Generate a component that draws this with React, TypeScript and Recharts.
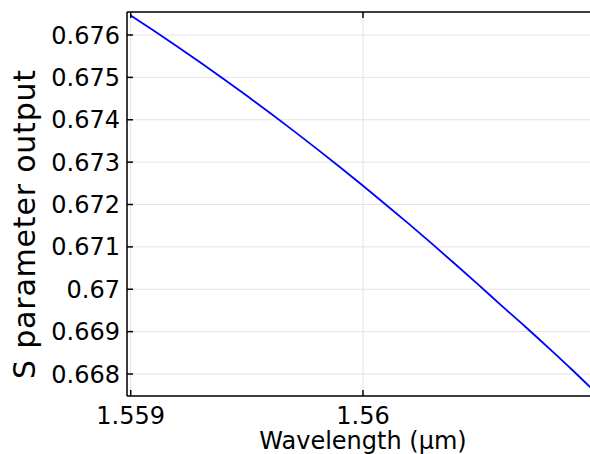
import { LineChart, Line, XAxis, YAxis, CartesianGrid } from 'recharts';

// wavelength in µm, sampled every 0.1 nm
const wavelengths = [
  1.559, 1.5591, 1.5592, 1.5593, 1.5594, 1.5595, 1.5596, 1.5597, 1.5598, 1.5599,
  1.56, 1.5601, 1.5602, 1.5603, 1.5604, 1.5605, 1.5606, 1.5607, 1.5608, 1.5609, 1.561,
];
const sParam = [
  0.67646, 0.6761, 0.67573, 0.675351, 0.674963, 0.674565, 0.674159, 0.673744, 0.673319, 0.672885,
  0.672443, 0.67199, 0.67153, 0.671058, 0.670579, 0.670093, 0.669595, 0.66911, 0.66861, 0.6681, 0.66757,
];
const xTicks = [1.559, 1.56];
const yTicks = [0.668, 0.669, 0.67, 0.671, 0.672, 0.673, 0.674, 0.675, 0.676];

const xDomain = [1.558984, 1.561016];
const yDomain = [0.667481, 0.676543];

const chartData = wavelengths.map((w, i) => ({ w, s: sParam[i] }));

const font = '"DejaVu Sans", Verdana, sans-serif';
const fmt = (v: number) => String(Number(v.toFixed(4)));

export default function App() {
  return (
    <div
      style={{
        position: 'absolute',
        left: 0,
        top: 0,
        width: 590,
        height: 454,
        overflow: 'hidden',
        background: '#fff',
        fontFamily: font,
      }}
    >
      <LineChart width={599} height={454} data={chartData} margin={{ top: 0, right: 0, left: 0, bottom: 0 }}>
        <CartesianGrid stroke="#e3e3e3" strokeWidth={1} xAxisId="bottom" yAxisId="left" />
        <XAxis
          xAxisId="bottom"
          dataKey="w"
          type="number"
          domain={xDomain}
          ticks={xTicks}
          allowDataOverflow
          height={58}
          tickFormatter={fmt}
          tickSize={-6}
          tickMargin={17}
          axisLine={{ stroke: '#000', strokeWidth: 1.5 }}
          tickLine={{ stroke: '#000', strokeWidth: 1.5 }}
          tick={{ fill: '#000', fontSize: 24, fontFamily: font }}
          label={{
            value: 'Wavelength (µm)',
            position: 'insideBottom',
            offset: 5,
            fill: '#000',
            fontSize: 24,
            fontFamily: font,
          }}
        />
        <XAxis
          xAxisId="top"
          orientation="top"
          dataKey="w"
          type="number"
          domain={xDomain}
          ticks={xTicks}
          allowDataOverflow
          height={12}
          tickFormatter={() => ''}
          tickSize={-6}
          axisLine={{ stroke: '#000', strokeWidth: 1.5 }}
          tickLine={{ stroke: '#000', strokeWidth: 1.5 }}
        />
        <YAxis
          yAxisId="left"
          type="number"
          domain={yDomain}
          ticks={yTicks}
          allowDataOverflow
          width={127}
          tickFormatter={fmt}
          tickSize={-6}
          tickMargin={13}
          axisLine={{ stroke: '#000', strokeWidth: 1.5 }}
          tickLine={{ stroke: '#000', strokeWidth: 1.5 }}
          tick={{ fill: '#000', fontSize: 24, fontFamily: font }}
        />
        <Line
          xAxisId="bottom"
          yAxisId="left"
          dataKey="s"
          type="monotone"
          stroke="#0000ff"
          strokeWidth={1.8}
          dot={false}
          isAnimationActive={false}
        />
      </LineChart>
      <div
        style={{
          position: 'absolute',
          left: 25 - 200,
          top: 224 - 18,
          width: 400,
          height: 36,
          lineHeight: '36px',
          fontSize: 30,
          letterSpacing: 0.8,
          textAlign: 'center',
          color: '#000',
          transform: 'rotate(-90deg)',
          whiteSpace: 'nowrap',
        }}
      >
        S parameter output
      </div>
    </div>
  );
}
